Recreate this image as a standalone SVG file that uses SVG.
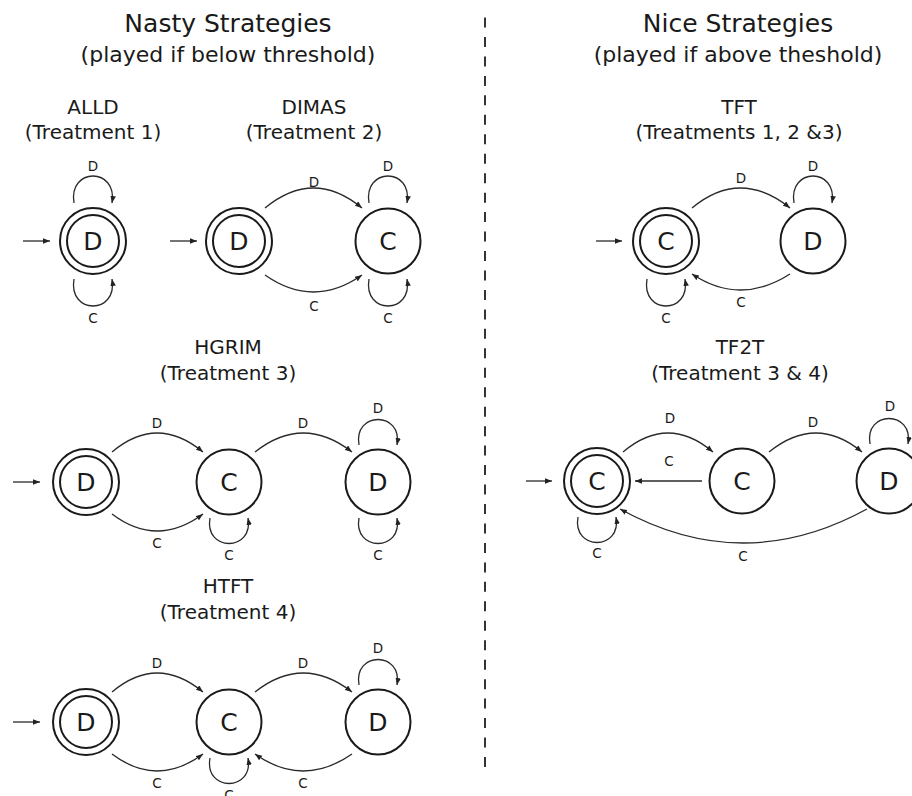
<svg xmlns="http://www.w3.org/2000/svg" width="912" height="796" viewBox="0 0 912 796">
<defs>
<marker id="ah" markerUnits="userSpaceOnUse" markerWidth="8" markerHeight="6" refX="7" refY="2.75" orient="auto">
<path d="M0,0 L7,2.75 L0,5.5 z" fill="#222"/>
</marker>
<style>
text{font-family:"DejaVu Sans","Liberation Sans",sans-serif;fill:#1a1a1a;text-anchor:middle}
.h1{font-size:25px}
.h2{font-size:22px}
.nm{font-size:20px}
.st{font-size:25px}
.lb{font-size:13.5px}
.ring{fill:#fff;stroke:#1a1a1a;stroke-width:2}
.e{fill:none;stroke:#2a2a2a;stroke-width:1.3;marker-end:url(#ah)}
.div{stroke:#333;stroke-width:2;stroke-dasharray:10 9.46}
</style>
</defs>
<rect width="912" height="796" fill="#fff"/>

<g id="headers">
<text class="h1" x="228" y="32">Nasty Strategies</text>
<text class="h2" x="228" y="62">(played if below threshold)</text>
<text class="h1" x="738" y="32">Nice Strategies</text>
<text class="h2" x="738" y="62">(played if above theshold)</text>
<line class="div" x1="485" y1="17.5" x2="485" y2="768"/>
</g>

<g id="titles">
<text class="nm" x="93" y="114">ALLD</text>
<text class="nm" x="93" y="139">(Treatment 1)</text>
<text class="nm" x="314" y="114">DIMAS</text>
<text class="nm" x="314" y="139">(Treatment 2)</text>
<text class="nm" x="739" y="114">TFT</text>
<text class="nm" x="739" y="139">(Treatments 1, 2 &amp;3)</text>
<text class="nm" x="228" y="354">HGRIM</text>
<text class="nm" x="228" y="380">(Treatment 3)</text>
<text class="nm" x="228" y="593">HTFT</text>
<text class="nm" x="228" y="619">(Treatment 4)</text>
<text class="nm" x="740" y="354">TF2T</text>
<text class="nm" x="740" y="380">(Treatment 3 &amp; 4)</text>
</g>

<!-- ALLD -->
<g id="alld_d"><circle class="ring" cx="93" cy="241" r="33"/><circle class="ring" cx="93" cy="241" r="26"/><text class="st" x="93" y="250">D</text></g>
<!-- DIMAS -->
<g id="dimas_d"><circle class="ring" cx="239" cy="241" r="33"/><circle class="ring" cx="239" cy="241" r="26"/><text class="st" x="239" y="250">D</text></g>
<g id="dimas_c"><circle class="ring" cx="388" cy="241" r="32.5"/><text class="st" x="388" y="250">C</text></g>
<!-- TFT -->
<g id="tft_c"><circle class="ring" cx="666" cy="241" r="33"/><circle class="ring" cx="666" cy="241" r="26"/><text class="st" x="666" y="250">C</text></g>
<g id="tft_d"><circle class="ring" cx="813" cy="241" r="32.5"/><text class="st" x="813" y="250">D</text></g>
<!-- HGRIM -->
<g id="hgrim_d1"><circle class="ring" cx="86" cy="482" r="33"/><circle class="ring" cx="86" cy="482" r="26"/><text class="st" x="86" y="491">D</text></g>
<g id="hgrim_c"><circle class="ring" cx="229" cy="482" r="32.5"/><text class="st" x="229" y="491">C</text></g>
<g id="hgrim_d2"><circle class="ring" cx="378" cy="482" r="32.5"/><text class="st" x="378" y="491">D</text></g>
<!-- HTFT -->
<g id="htft_d1"><circle class="ring" cx="86" cy="722" r="33"/><circle class="ring" cx="86" cy="722" r="26"/><text class="st" x="86" y="731">D</text></g>
<g id="htft_c"><circle class="ring" cx="229" cy="722" r="32.5"/><text class="st" x="229" y="731">C</text></g>
<g id="htft_d2"><circle class="ring" cx="378" cy="722" r="32.5"/><text class="st" x="378" y="731">D</text></g>
<!-- TF2T -->
<g id="tf2t_c1"><circle class="ring" cx="597" cy="481" r="33"/><circle class="ring" cx="597" cy="481" r="26"/><text class="st" x="597" y="490">C</text></g>
<g id="tf2t_c2"><circle class="ring" cx="742" cy="481" r="32.5"/><text class="st" x="742" y="490">C</text></g>
<g id="tf2t_d"><circle class="ring" cx="889" cy="481" r="32.5"/><text class="st" x="889" y="490">D</text></g>

<g id="connectors">
<!-- ALLD -->
<path class="e" d="M23 241 H50"/>
<path class="e" d="M74 203 C68 167 118 167 112 203"/>
<text class="lb" x="93" y="171">D</text>
<path class="e" d="M74 279 C68 315 118 315 112 279"/>
<text class="lb" x="93" y="323">C</text>
<!-- DIMAS -->
<path class="e" d="M170 241 H197"/>
<path class="e" d="M265 208 Q313.5 168 362 208"/>
<text class="lb" x="314" y="187">D</text>
<path class="e" d="M265 275 Q313.5 309 362 275"/>
<text class="lb" x="314" y="311">C</text>
<path class="e" d="M369 203 C363 167 413 167 407 203"/>
<text class="lb" x="388" y="171">D</text>
<path class="e" d="M369 279 C363 315 413 315 407 279"/>
<text class="lb" x="388" y="323">C</text>
<!-- TFT -->
<path class="e" d="M596 241 H622"/>
<path class="e" d="M692 208 Q740 168 790 208"/>
<text class="lb" x="741" y="183">D</text>
<path class="e" d="M790 274 Q740 306 692 274"/>
<text class="lb" x="741" y="307">C</text>
<path class="e" d="M794 203 C788 167 838 167 832 203"/>
<text class="lb" x="813" y="171">D</text>
<path class="e" d="M647 279 C641 315 691 315 685 279"/>
<text class="lb" x="666" y="323">C</text>
<!-- HGRIM -->
<path class="e" d="M13 482 H40"/>
<path class="e" d="M112 452 Q157 414 203 452"/>
<text class="lb" x="157" y="428">D</text>
<path class="e" d="M112 514 Q157 548 203 514"/>
<text class="lb" x="157" y="548">C</text>
<path class="e" d="M255 452 Q303 414 352 452"/>
<text class="lb" x="303" y="428">D</text>
<path class="e" d="M210 518 C204 552 254 552 248 518"/>
<text class="lb" x="229" y="560">C</text>
<path class="e" d="M359 445 C353 411 403 411 397 445"/>
<text class="lb" x="378" y="413">D</text>
<path class="e" d="M359 518 C353 552 403 552 397 518"/>
<text class="lb" x="378" y="560">C</text>
<!-- HTFT -->
<path class="e" d="M13 722 H40"/>
<path class="e" d="M112 692 Q157 654 203 692"/>
<text class="lb" x="157" y="668">D</text>
<path class="e" d="M112 754 Q157 788 203 754"/>
<text class="lb" x="157" y="788">C</text>
<path class="e" d="M255 692 Q303 654 352 692"/>
<text class="lb" x="303" y="668">D</text>
<path class="e" d="M352 754 Q303 788 255 754"/>
<text class="lb" x="303" y="788">C</text>
<path class="e" d="M210 758 C204 792 254 792 248 758"/>
<text class="lb" x="229" y="800">C</text>
<path class="e" d="M359 685 C353 651 403 651 397 685"/>
<text class="lb" x="378" y="653">D</text>
<!-- TF2T -->
<path class="e" d="M526 481 H552"/>
<path class="e" d="M623 452 Q668 414 713 452"/>
<text class="lb" x="670" y="423">D</text>
<path class="e" d="M702 481 H635"/>
<text class="lb" x="669" y="466">C</text>
<path class="e" d="M769 452 Q816 414 862 452"/>
<text class="lb" x="813" y="427">D</text>
<path class="e" d="M870 444 C864 410 914 410 908 444"/>
<text class="lb" x="890" y="411">D</text>
<path class="e" d="M867 509 Q743 577 620 509"/>
<text class="lb" x="743" y="561">C</text>
<path class="e" d="M578 517 C572 551 622 551 616 517"/>
<text class="lb" x="597" y="558">C</text>
</g>
</svg>
